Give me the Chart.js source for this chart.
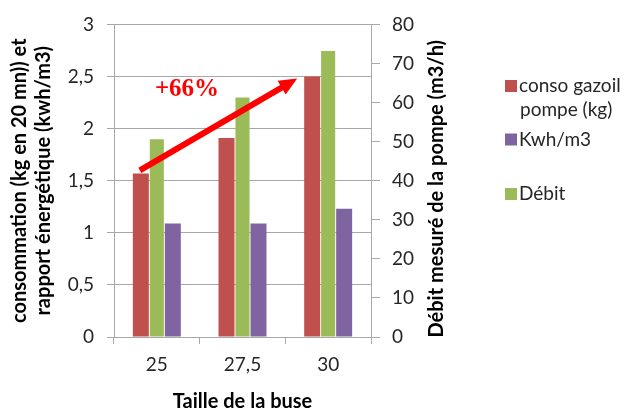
<!DOCTYPE html>
<html>
<head>
<meta charset="utf-8">
<script src="https://cdn.jsdelivr.net/npm/chart.js@4.4.1/dist/chart.umd.min.js"></script>
<style>
  html, body { margin: 0; padding: 0; background: #ffffff; }
  #wrap { width: 630px; height: 408px; position: relative; }
</style>
</head>
<body>
<div id="wrap"><canvas id="c" width="630" height="408"></canvas></div>
<script>
// Nozzle sizes and measured values
const categories = ['25', '27,5', '30'];
const consoGazoil = [1.57, 1.91, 2.50];   // kg per 20 min
const kwhParM3 = [1.09, 1.09, 1.23];      // kWh/m3
const debit = [50.6, 61.3, 73.2];         // m3/h (right axis)

const leftMax = 3, leftStep = 0.5;
const rightMax = 80, rightStep = 10;

const legendItems = [
  { lines: ['conso gazoil', 'pompe (kg)'], color: '#C0504D' },
  { lines: ['Kwh/m3'], color: '#8064A2' },
  { lines: ['Débit'], color: '#9BBB59' }
];
const rightTitle = 'Débit mesuré de la pompe (m3/h)';
const increaseLabel = '+66%';

const FONT = 'Lato, "Open Sans", sans-serif';
const GRID = '#a8a8a8';
const TEXT = '#262626';

const commaNum = v => String(v).replace('.', ',');

const extras = {
  id: 'extras',
  afterDatasetsDraw(chart) {
    const ctx = chart.ctx;
    const area = chart.chartArea;
    // Growth arrow from the first to the last fuel bar
    const bars = chart.getDatasetMeta(0).data;
    const b0 = bars[0], b2 = bars[bars.length - 1];
    const sx = b0.x - 1, sy = b0.y - 3;
    const tx = b2.x - b2.width / 2 - 7, ty = b2.y + 2;
    const ang = Math.atan2(ty - sy, tx - sx);
    const headLen = 18, headHalf = 8;
    const bx = tx - headLen * Math.cos(ang), by = ty - headLen * Math.sin(ang);
    ctx.save();
    ctx.strokeStyle = '#FF0000';
    ctx.fillStyle = '#FF0000';
    ctx.lineWidth = 6;
    ctx.lineCap = 'butt';
    ctx.beginPath();
    ctx.moveTo(sx, sy);
    ctx.lineTo(bx + 2 * Math.cos(ang), by + 2 * Math.sin(ang));
    ctx.stroke();
    ctx.beginPath();
    ctx.moveTo(tx, ty);
    ctx.lineTo(bx - headHalf * Math.sin(ang), by + headHalf * Math.cos(ang));
    ctx.lineTo(bx + headHalf * Math.sin(ang), by - headHalf * Math.cos(ang));
    ctx.closePath();
    ctx.fill();
    ctx.font = 'bold 25px "Liberation Serif", "Times New Roman", serif';
    ctx.textAlign = 'center';
    ctx.textBaseline = 'middle';
    ctx.fillText(increaseLabel, area.left + 73, area.top + 65);
    ctx.restore();
  },
  afterDraw(chart) {
    const ctx = chart.ctx;
    const area = chart.chartArea;
    ctx.save();
    // Right axis title, reading upwards
    ctx.font = 'bold 20px ' + FONT;
    ctx.fillStyle = '#000';
    ctx.textAlign = 'center';
    ctx.textBaseline = 'middle';
    ctx.translate(area.right + 66, (area.top + area.bottom) / 2 + 8);
    ctx.rotate(-Math.PI / 2);
    ctx.fillText(rightTitle, 0, 0);
    ctx.restore();

    // Legend
    ctx.save();
    ctx.font = '19px ' + FONT;
    ctx.textAlign = 'left';
    ctx.textBaseline = 'middle';
    const lx = area.right + 134;
    const rows = [86, 139.5, 194];
    legendItems.forEach((it, i) => {
      const cy = rows[i];
      ctx.fillStyle = it.color;
      ctx.fillRect(lx, cy - 6, 12, 12);
      ctx.fillStyle = TEXT;
      it.lines.forEach((ln, j) => ctx.fillText(ln, lx + 14 + (j ? 1 : 0), cy + j * 24));
    });
    ctx.restore();
  }
};

new Chart(document.getElementById('c'), {
  type: 'bar',
  data: {
    labels: categories,
    datasets: [
      { label: 'conso gazoil pompe (kg)', data: consoGazoil, backgroundColor: '#C0504D', yAxisID: 'y' },
      { label: 'Débit', data: debit, backgroundColor: '#9BBB59', yAxisID: 'y1', barPercentage: 0.88 },
      { label: 'Kwh/m3', data: kwhParM3, backgroundColor: '#8064A2', yAxisID: 'y' }
    ]
  },
  options: {
    responsive: false,
    animation: false,
    categoryPercentage: 0.56,
    barPercentage: 1.0,
    layout: { padding: { left: 0, right: 180, top: 24, bottom: 0 } },
    plugins: { legend: { display: false }, tooltip: { enabled: false } },
    scales: {
      x: {
        afterFit: s => { s.height = 71; },
        grid: { offset: true, drawOnChartArea: false, drawTicks: true, tickLength: 7, color: GRID },
        border: { display: true, color: GRID },
        ticks: { font: { family: FONT, size: 19 }, color: TEXT, padding: 9 },
        title: { display: true, text: 'Taille de la buse', font: { family: FONT, size: 20, weight: 'bold', lineHeight: 1.0 }, color: '#000', padding: { top: 0, bottom: -4 } }
      },
      y: {
        position: 'left',
        min: 0, max: leftMax,
        afterFit: s => { s.width = 114; },
        afterBuildTicks: s => { s.ticks = []; for (let v = 0; v <= leftMax + 1e-9; v += leftStep) s.ticks.push({ value: +v.toFixed(2) }); },
        grid: { color: GRID, tickLength: 7, drawTicks: true },
        border: { display: true, color: GRID },
        ticks: { font: { family: FONT, size: 19 }, color: TEXT, padding: 13, callback: v => commaNum(v) },
        title: { display: true, text: ['consommation (kg en 20 mn)) et', 'rapport énergétique (kwh/m3)'], font: { family: FONT, size: 20, weight: 'bold', lineHeight: 1.2 }, color: '#000', padding: { top: 8 } }
      },
      y1: {
        position: 'right',
        min: 0, max: rightMax,
        afterFit: s => { s.width = 79; },
        afterBuildTicks: s => { s.ticks = []; for (let v = 0; v <= rightMax; v += rightStep) s.ticks.push({ value: v }); },
        grid: { drawOnChartArea: false, color: GRID, tickLength: 9, drawTicks: true },
        border: { display: true, color: GRID },
        ticks: { font: { family: FONT, size: 19 }, color: TEXT, padding: 12 }
      }
    }
  },
  plugins: [extras]
});
</script>
</body>
</html>
